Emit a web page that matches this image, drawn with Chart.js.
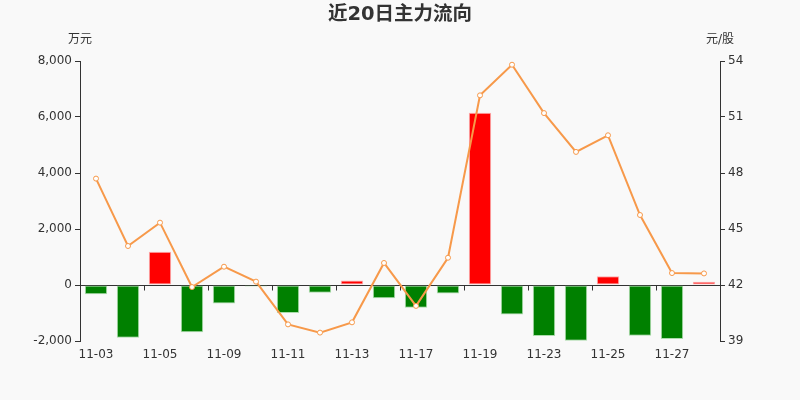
<!DOCTYPE html>
<html>
<head>
<meta charset="utf-8">
<script src="https://cdn.jsdelivr.net/npm/chart.js@4"></script>
<style>
html,body{margin:0;padding:0;background:#f9f9f9;}
#wrap{width:800px;height:400px;position:relative;}
</style>
</head>
<body>
<div id="wrap"><canvas id="c" width="800" height="400"></canvas></div>
<script>
const categories = ['11-03','11-04','11-05','11-06','11-09','11-10','11-11','11-12','11-13','11-16','11-17','11-18','11-19','11-20','11-23','11-24','11-25','11-26','11-27','11-30'];
const flowValues = [-330,-1880,1190,-1690,-665,-50,-1000,-275,165,-475,-810,-300,6150,-1050,-1820,-1990,310,-1810,-1930,120];
const priceValues = [47.70,44.09,45.34,41.89,42.98,42.18,39.89,39.45,40.00,43.18,40.88,43.46,52.16,53.80,51.21,49.13,50.02,45.75,42.64,42.62];
const leftTicks = [-2000,0,2000,4000,6000,8000];
const rightTicks = [39,42,45,48,51,54];
const titleText = '近20日主力流向';
const leftUnit = '万元';
const rightUnit = '元/股';

const FONT = 'DejaVu Sans, "Noto Sans CJK SC", sans-serif';
const TXT = '#333333';
const LINE_C = '#f7994a';

const decor = {
  id: 'decor',
  beforeDraw(chart) {
    const ctx = chart.ctx;
    ctx.save();
    ctx.fillStyle = '#f9f9f9';
    ctx.fillRect(0, 0, chart.width, chart.height);
    ctx.restore();
  },
  beforeDatasetsDraw(chart) {
    const ctx = chart.ctx;
    const x = chart.scales.x, y = chart.scales.y;
    const y0 = Math.round(y.getPixelForValue(0)) + 0.5;
    ctx.save();
    ctx.strokeStyle = TXT;
    ctx.lineWidth = 1;
    ctx.beginPath();
    ctx.moveTo(chart.chartArea.left, y0);
    ctx.lineTo(chart.chartArea.right, y0);
    const n = categories.length;
    const step = (x.getPixelForValue(1) - x.getPixelForValue(0));
    for (let i = 2; i < n; i += 2) {
      const px = Math.round(x.getPixelForValue(i) - step / 2) + 0.5;
      ctx.moveTo(px, y0);
      ctx.lineTo(px, y0 + 5);
    }
    ctx.stroke();
    ctx.restore();
  },
  afterDraw(chart) {
    const ctx = chart.ctx;
    const a = chart.chartArea;
    ctx.save();
    ctx.fillStyle = TXT;
    ctx.textAlign = 'center';
    ctx.textBaseline = 'middle';
    ctx.font = 'bold 19.5px ' + FONT;
    ctx.fillText(titleText, (a.left + a.right) / 2, 15);
    ctx.font = '12px ' + FONT;
    ctx.fillText(leftUnit, a.left, 40);
    ctx.fillText(rightUnit, a.right, 40);
    ctx.restore();
  }
};

new Chart(document.getElementById('c'), {
  data: {
    labels: categories,
    datasets: [
      {
        type: 'line',
        data: priceValues,
        yAxisID: 'y1',
        borderColor: LINE_C,
        borderWidth: 2,
        pointRadius: 2.5,
        pointBackgroundColor: '#ffffff',
        pointBorderColor: LINE_C,
        pointBorderWidth: 1,
        tension: 0,
        order: 0
      },
      {
        type: 'bar',
        data: flowValues,
        yAxisID: 'y',
        backgroundColor: flowValues.map(v => v >= 0 ? '#ff0000' : '#008000'),
        borderColor: flowValues.map(v => v >= 0 ? 'rgba(255,120,120,0.6)' : 'rgba(120,200,120,0.6)'),
        borderWidth: 1,
        borderSkipped: false,
        barPercentage: 0.7,
        categoryPercentage: 1.0,
        order: 1
      }
    ]
  },
  options: {
    responsive: false,
    animation: false,
    devicePixelRatio: 1,
    layout: { padding: { top: 61, left: 0, right: 0, bottom: 0 } },
    plugins: { legend: { display: false }, tooltip: { enabled: false }, title: { display: false } },
    scales: {
      x: {
        type: 'category',
        offset: true,
        afterFit(s) { s.height = 59; },
        grid: { display: false, drawTicks: false },
        border: { display: false },
        ticks: {
          autoSkip: false,
          maxRotation: 0,
          padding: 7,
          color: TXT,
          font: { size: 12, family: FONT },
          callback(v, i) { return i % 2 === 0 ? categories[i] : ''; }
        }
      },
      y: {
        position: 'left',
        min: -2000, max: 8000,
        afterFit(s) { s.width = 80; },
        afterBuildTicks(s) { s.ticks = leftTicks.map(v => ({ value: v })); },
        grid: { drawOnChartArea: false, drawTicks: true, tickLength: 5, color: TXT },
        border: { display: true, color: TXT, width: 1 },
        ticks: {
          padding: 3,
          color: TXT,
          font: { size: 12, family: FONT },
          callback(v) { return v.toLocaleString('en-US'); }
        }
      },
      y1: {
        position: 'right',
        min: 39, max: 54,
        afterFit(s) { s.width = 80; },
        afterBuildTicks(s) { s.ticks = rightTicks.map(v => ({ value: v })); },
        grid: { drawOnChartArea: false, drawTicks: true, tickLength: 5, color: TXT },
        border: { display: true, color: TXT, width: 1 },
        ticks: {
          padding: 3,
          color: TXT,
          font: { size: 12, family: FONT }
        }
      }
    }
  },
  plugins: [decor]
});
</script>
</body>
</html>
